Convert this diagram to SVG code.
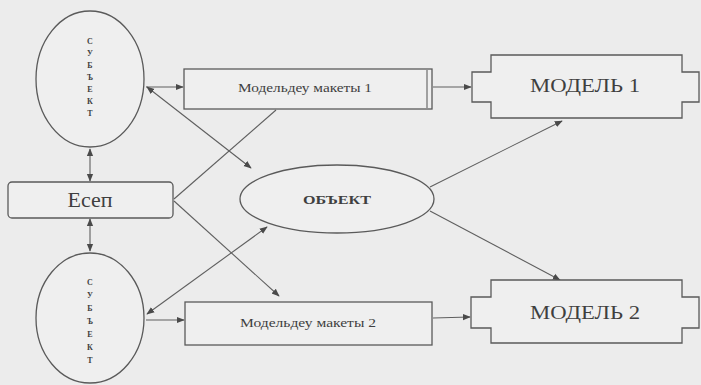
<svg xmlns="http://www.w3.org/2000/svg" width="701" height="385" viewBox="0 0 701 385">
<style>
.shape{fill:#efefef;stroke:#5a5a5a;stroke-width:1.3}
.ln{fill:none;stroke:#5f5f5f;stroke-width:1.1}
.t{font-family:"Liberation Serif","Times New Roman",serif;fill:#3f3f3f;text-anchor:middle}
.v{font-size:8px;font-weight:bold}
</style>
<defs>
<marker id="ah" viewBox="0 0 10 10" refX="9" refY="5" markerWidth="8" markerHeight="8" markerUnits="userSpaceOnUse" orient="auto-start-reverse">
<path d="M0,1 L10,5 L0,9 Z" fill="#4a4a4a"/>
</marker>
</defs>
<rect width="701" height="385" fill="#ececec"/>
<g id="connectors">
<line class="ln" x1="90" y1="149" x2="90" y2="181" marker-start="url(#ah)" marker-end="url(#ah)"/>
<line class="ln" x1="90" y1="219" x2="90" y2="251" marker-start="url(#ah)" marker-end="url(#ah)"/>
<line class="ln" x1="146" y1="87" x2="183" y2="87" marker-end="url(#ah)"/>
<line class="ln" x1="147" y1="87" x2="251" y2="168" marker-start="url(#ah)" marker-end="url(#ah)"/>
<line class="ln" x1="276" y1="110" x2="174" y2="199"/>
<line class="ln" x1="174" y1="201" x2="279" y2="296" marker-end="url(#ah)"/>
<line class="ln" x1="267" y1="227" x2="147" y2="314" marker-start="url(#ah)" marker-end="url(#ah)"/>
<line class="ln" x1="146" y1="320" x2="184" y2="320" marker-end="url(#ah)"/>
<line class="ln" x1="433" y1="87" x2="471" y2="87" marker-end="url(#ah)"/>
<line class="ln" x1="433" y1="318" x2="470" y2="317" marker-end="url(#ah)"/>
<line class="ln" x1="430" y1="187" x2="562" y2="121" marker-end="url(#ah)"/>
<line class="ln" x1="430" y1="211" x2="560" y2="280" marker-end="url(#ah)"/>
</g>
<g id="subject1">
<ellipse class="shape" cx="90" cy="79" rx="54" ry="68"/>
<text class="t v" x="90" y="44">С</text>
<text class="t v" x="90" y="56">У</text>
<text class="t v" x="90" y="68">Б</text>
<text class="t v" x="90" y="80">Ъ</text>
<text class="t v" x="90" y="92">Е</text>
<text class="t v" x="90" y="104">К</text>
<text class="t v" x="90" y="116">Т</text>
</g>
<g id="esep">
<rect class="shape" x="8" y="182" width="165" height="36" rx="4"/>
<text class="t" x="90" y="207" font-size="20" textLength="45" lengthAdjust="spacingAndGlyphs">Есеп</text>
</g>
<g id="subject2">
<ellipse class="shape" cx="90" cy="318" rx="54" ry="65"/>
<text class="t v" x="90" y="285">С</text>
<text class="t v" x="90" y="298">У</text>
<text class="t v" x="90" y="311">Б</text>
<text class="t v" x="90" y="324">Ъ</text>
<text class="t v" x="90" y="337">Е</text>
<text class="t v" x="90" y="350">К</text>
<text class="t v" x="90" y="363">Т</text>
</g>
<g id="model-layout1">
<rect class="shape" x="184" y="69" width="248" height="40"/>
<line class="ln" x1="427" y1="70" x2="427" y2="108"/>
<text class="t" x="305" y="92" font-size="12" textLength="134" lengthAdjust="spacingAndGlyphs">Модельдеу макеты 1</text>
</g>
<g id="model-layout2">
<rect class="shape" x="185" y="302" width="247" height="43"/>
<text class="t" x="308" y="327" font-size="12" textLength="136" lengthAdjust="spacingAndGlyphs">Модельдеу макеты 2</text>
</g>
<g id="object">
<ellipse class="shape" cx="337" cy="199" rx="97" ry="34"/>
<text class="t" x="337" y="204" font-size="12" font-weight="bold" textLength="68" lengthAdjust="spacingAndGlyphs">ОБЪЕКТ</text>
</g>
<g id="model1">
<path class="shape" d="M491,55 H682 V72 H699 V102 H682 V118 H491 V102 H472 V72 H491 Z"/>
<text class="t" x="585" y="92" font-size="19" textLength="110" lengthAdjust="spacingAndGlyphs">МОДЕЛЬ 1</text>
</g>
<g id="model2">
<path class="shape" d="M491,280 H682 V297 H699 V328 H682 V343 H491 V328 H471 V297 H491 Z"/>
<text class="t" x="585" y="319" font-size="19" textLength="110" lengthAdjust="spacingAndGlyphs">МОДЕЛЬ 2</text>
</g>
</svg>
